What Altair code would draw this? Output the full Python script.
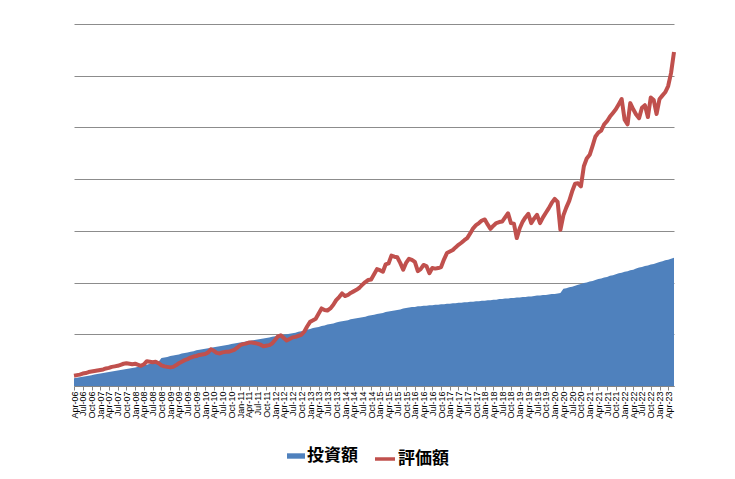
import altair as alt
import pandas as pd

# Monthly categories: Apr-06 .. Jun-23
months = pd.date_range("2006-04-01", periods=207, freq="MS")

# 投資額 (cumulative investment) (gridline = 100)
invest = [
    15, 16, 17, 18, 19, 20, 21, 22, 23, 24, 25,
    26, 27, 28, 29, 30, 31, 32, 33, 34, 35, 36,
    37, 39, 40, 41, 43, 44, 46, 47,
    54,
    55, 56, 58, 59, 60, 61, 63, 64, 65, 66, 67, 69, 70,
    71, 72, 73, 74, 75, 76, 77, 78, 79, 80, 81, 82, 83, 84, 85, 86,
    87, 88, 89, 90, 91, 92, 93, 94, 95, 96, 97, 98, 99, 100, 101,
    102, 103, 105, 106, 107, 109, 110, 112, 113, 114, 116, 117, 119, 120, 121, 123, 124,
    125, 126, 127, 129, 130, 131, 132, 133, 134, 136, 137, 138, 139, 140, 141,
    143, 144, 145, 146, 147, 148, 150, 151, 152,
    153, 153, 154, 154, 155, 155, 156, 156, 157, 157,
    158, 158, 159, 159, 160, 160, 161, 161, 162, 162,
    163, 163, 164, 164, 165, 165, 166, 166, 167, 167,
    168, 168, 169, 169, 170, 170, 171, 171, 172, 172,
    173, 173, 174, 175, 175, 176, 176, 177, 178, 178,
    179, 180,
    188, 189, 191, 192, 194, 196, 197, 199, 200, 202,
    203, 205, 207, 208, 210, 211, 213, 214, 216, 218,
    219, 221, 222, 224, 225, 227, 229, 230, 232, 233,
    235, 236, 238, 240, 241, 243, 244, 246, 248,
]

# 評価額 (market value)
valuation = [
    20, 21, 22, 24, 25, 27, 28, 29, 30, 31,
    32, 34, 35, 37, 38, 39, 41, 43, 44, 43,
    42, 43, 41, 39, 42, 48, 47, 46, 47, 44,
    40, 38, 37, 36, 37, 40, 44, 47, 50, 52,
    55, 57, 58, 60, 61, 62, 65, 71, 68, 64,
    63, 65, 66, 66, 68, 70, 74, 79, 81, 82,
    84, 84, 83, 82, 80, 77, 78, 79, 82, 89,
    96, 98, 93, 88, 91, 94, 95, 97, 99, 105,
    115, 124, 127, 130, 140, 150, 147, 146, 150, 157,
    166, 172, 179, 174, 176, 180, 183, 186, 190, 196,
    201, 205, 206, 216, 226, 224, 221, 235, 237, 252,
    250, 249, 238, 225, 238, 246, 244, 240, 222, 226,
    234, 232, 218, 228, 227, 228, 230, 245, 257, 260,
    263, 268, 273, 277, 282, 286, 295, 305, 311, 315,
    320, 322, 312, 304, 310, 315, 317, 318, 326, 334,
    315, 314, 286, 305, 318, 326, 333, 315, 324, 331,
    315, 326, 335, 344, 354, 362, 356, 302, 330, 345,
    358, 376, 391, 392, 386, 425, 440, 447, 465, 482,
    490, 494, 506, 512, 521, 528, 535, 545, 555, 515,
    506, 547, 535, 525, 518, 538, 543, 520, 558, 553,
    526, 555, 562, 568, 580, 605, 646,
]

series_names = ["投資額", "評価額"]
colors = ["#4F81BD", "#C0504D"]
y_ticks = [0, 100, 200, 300, 400, 500, 600, 700]
tick_months = months[::3]
tick_values = [alt.DateTime(year=int(d.year), month=int(d.month), date=1) for d in tick_months]

df_inv = pd.DataFrame({"month": months, "value": invest, "series": series_names[0]})
df_val = pd.DataFrame({"month": months, "value": valuation, "series": series_names[1]})

x_enc = alt.X(
    "month:T",
    scale=alt.Scale(domain=[alt.DateTime(year=2006, month=4, date=1),
                            alt.DateTime(year=2023, month=6, date=1)]),
    axis=alt.Axis(
        format="%b-%y", values=tick_values, labelAngle=-90, labelFontSize=9,
        labelFont="Liberation Sans", labelColor="#000000", labelOverlap=False,
        labelFlush=False, labelPadding=1, tickSize=4, tickColor="#868686",
        domainColor="#868686", grid=False, title=None,
    ),
)
y_enc = alt.Y(
    "value:Q",
    scale=alt.Scale(domain=[0, 700], nice=False),
    axis=alt.Axis(values=y_ticks, labels=False, ticks=False, domain=False,
                  grid=True, gridColor="#8C8C8C", gridWidth=1, title=None),
)

area = alt.Chart(df_inv).mark_area(opacity=1).encode(
    x=x_enc,
    y=y_enc,
    color=alt.Color(
        "series:N",
        scale=alt.Scale(domain=[series_names[0]], range=[colors[0]]),
        legend=alt.Legend(
            orient="none", legendX=213, legendY=423, title=None,
            symbolType="M-1,-0.3H1V0.3H-1Z", symbolSize=324,
            symbolStrokeWidth=0, labelFont="Noto Sans CJK JP",
            labelFontSize=17, labelFontWeight="bold", labelColor="#000000",
            labelOffset=2,
        ),
    ),
)

line = alt.Chart(df_val).mark_line(strokeWidth=4, strokeJoin="round").encode(
    x=x_enc,
    y=y_enc,
    stroke=alt.Stroke(
        "series:N",
        scale=alt.Scale(domain=[series_names[1]], range=[colors[1]]),
        legend=alt.Legend(
            orient="none", legendX=299, legendY=423, title=None,
            symbolType="stroke", symbolSize=400, symbolStrokeWidth=3.5,
            labelFont="Noto Sans CJK JP", labelFontSize=17,
            labelFontWeight="bold", labelColor="#000000", labelOffset=1,
        ),
    ),
)

chart = alt.layer(area, line).properties(
    width=600, height=362,
    autosize=alt.AutoSizeParams(type="none"),
    padding={"left": 66, "top": 16, "right": 50, "bottom": 84},
    background="white",
).configure_view(strokeWidth=0)

chart.save("out.html", embed_options={"renderer": "svg", "actions": False})
